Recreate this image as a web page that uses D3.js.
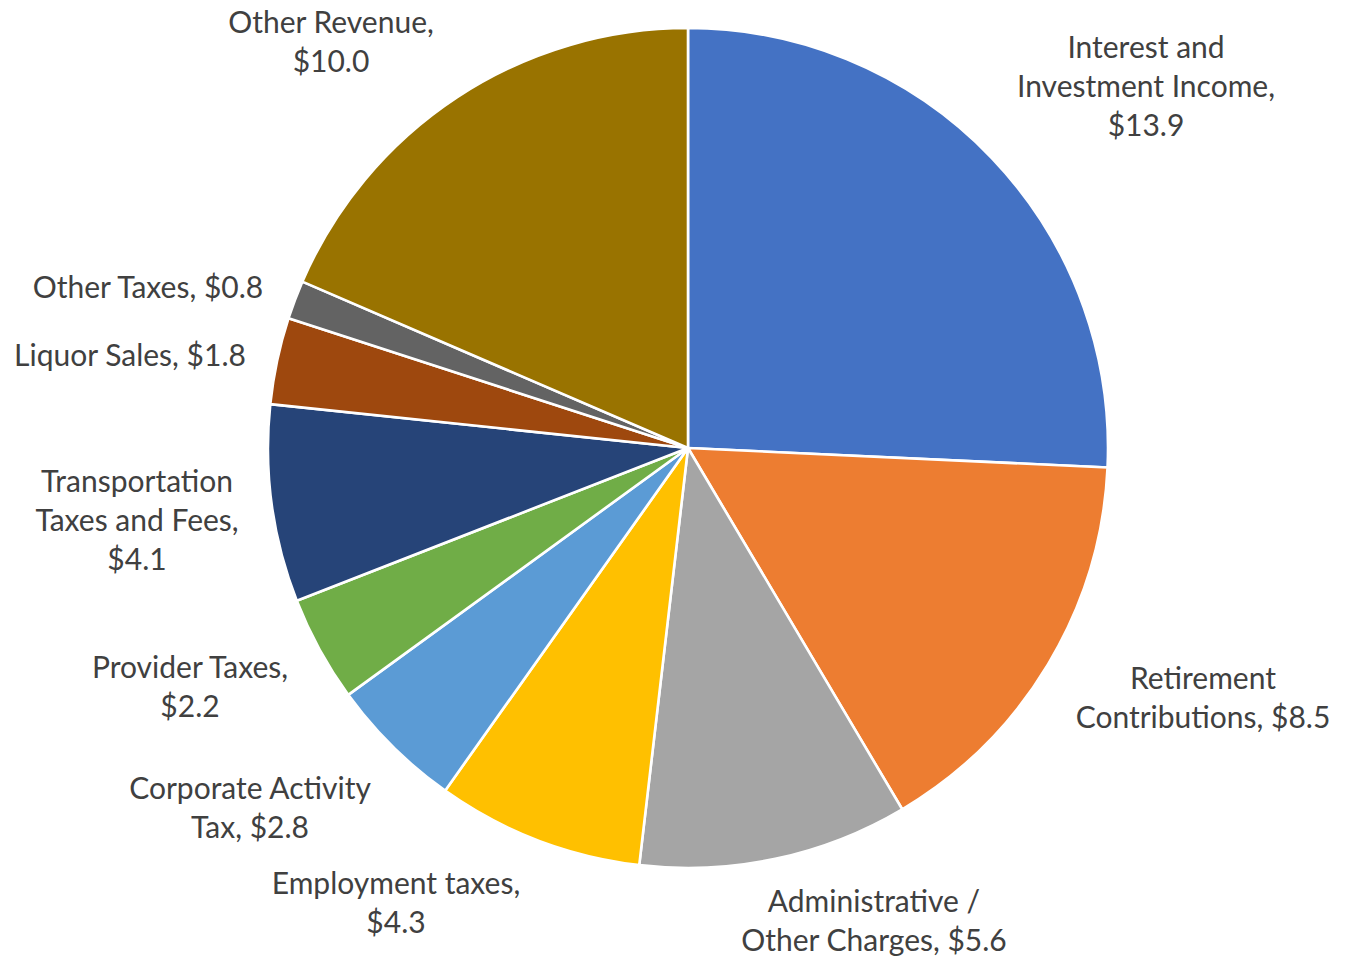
<!DOCTYPE html>
<html>
<head>
<meta charset="utf-8">
<script src="https://cdn.jsdelivr.net/npm/d3@7"></script>
<style>
  html, body { margin: 0; padding: 0; background: #fff; }
  svg { display: block; }
</style>
</head>
<body>
<svg id="chart" width="1360" height="957"></svg>
<script>
// ---- data ----
const categories = [
  "Interest and Investment Income",
  "Retirement Contributions",
  "Administrative / Other Charges",
  "Employment taxes",
  "Corporate Activity Tax",
  "Provider Taxes",
  "Transportation Taxes and Fees",
  "Liquor Sales",
  "Other Taxes",
  "Other Revenue"
];
const values = [13.9, 8.5, 5.6, 4.3, 2.8, 2.2, 4.1, 1.8, 0.8, 10.0];
const colors = ["#4472C4", "#ED7D31", "#A5A5A5", "#FFC000", "#5B9BD5",
                "#70AD47", "#264478", "#9E480E", "#636363", "#997300"];

// ---- layout ----
const W = 1360, H = 957;
const cx = 688, cy = 448, R = 420;
// words per line for each label
const lineBreaks = [[2,2,1],[1,2],[2,3],[2,1],[2,2],[2,1],[1,3,1],[3],[3],[2,1]];
// label block anchor (center x, first line middle y), relative to pie center
const labelAnchor = [
  [458, -402], [515, 229], [186, 452], [-292, 434], [-438, 339],
  [-498, 218], [-551, 32], [-558, -94], [-540, -162], [-357, -427]
];
const lineH = 38.8;

const svg = d3.select("#chart");
const g = svg.append("g").attr("transform", `translate(${cx},${cy})`);

const pie = d3.pie().sort(null).value(d => d)
  .startAngle(0).endAngle(2 * Math.PI);
const arc = d3.arc().innerRadius(0).outerRadius(R);
const arcs = pie(values);

g.selectAll("path.slice")
  .data(arcs)
  .join("path")
  .attr("class", "slice")
  .attr("d", arc)
  .attr("fill", (d, i) => colors[i])
  .attr("stroke", "#fff")
  .attr("stroke-width", 2.6)
  .attr("stroke-linejoin", "round");

const fmt = d3.format(".1f");
arcs.forEach((d, i) => {
  const text = `${categories[i]}, $${fmt(values[i])}`;
  const words = text.split(" ");
  const lines = [];
  let k = 0;
  lineBreaks[i].forEach(n => { lines.push(words.slice(k, k + n).join(" ")); k += n; });
  const [ax, ay] = labelAnchor[i];
  const t = g.append("text")
    .attr("text-anchor", "middle")
    .attr("font-family", "Lato, 'Open Sans', sans-serif")
    .attr("font-size", 30)
    .attr("fill", "#404040");
  lines.forEach((ln, j) => {
    t.append("tspan")
      .attr("x", ax)
      .attr("y", ay + j * lineH)
      .attr("dominant-baseline", "central")
      .text(ln);
  });
});
</script>
</body>
</html>
